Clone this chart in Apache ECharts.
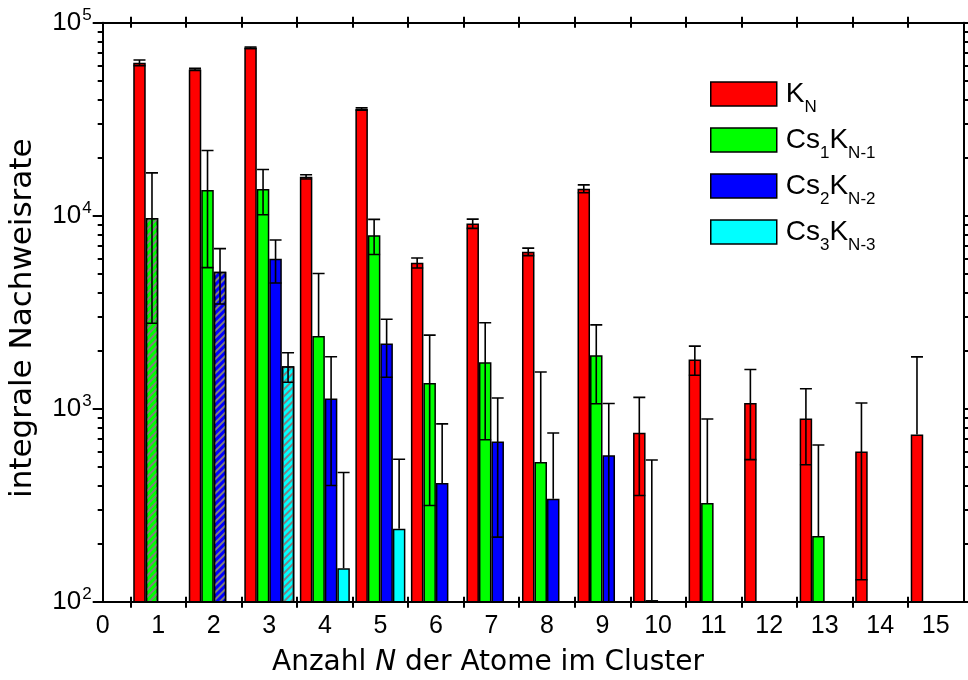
<!DOCTYPE html>
<html>
<head>
<meta charset="utf-8">
<script src="https://cdn.jsdelivr.net/npm/echarts@6/dist/echarts.min.js"></script>
<style>
  html, body { margin: 0; padding: 0; background: #fff; }
  #chart { width: 968px; height: 680px; }
</style>
</head>
<body>
<div id="chart"></div>
<script>
// Cluster size N
const clusterSizes = [1, 2, 3, 4, 5, 6, 7, 8, 9, 10, 11, 12, 13, 14, 15];

// Integral detection rates with their uncertainties (null = not detected)
const kRate   = [62000, 57300, 74200, 15900, 35700, 5700, 9100, 6500, 13800, 750, 1800, 1070, 890, 600, 735];
const kErr    = [2100, 700, 600, 400, 500, 340, 500, 290, 650, 395, 310, 525, 378, 470, 1120];
const cs1Rate = [9720, 13580, 13740, 2380, 7930, 1360, 1740, 530, 1890, 102, 325, null, 219, null, null];
const cs1Err  = [6950, 8200, 3620, 2640, 1640, 1045, 1050, 1020, 830, 440, 560, null, 430, null, null];
const cs2Rate = [null, 5120, 5980, 1130, 2180, 412, 676, 342, 574, null, null, null, null, null, null];
const cs2Err  = [null, 1630, 1500, 730, 725, 422, 460, 407, 490, null, null, null, null, null, null];
const cs3Rate = [null, null, 1660, 149, 239, null, null, null, null, null, null, null, null, null, null];
const cs3Err  = [null, null, 290, 318, 308, null, null, null, null, null, null, null, null, null, null];

// Series names and the N at which each series is a pure Cs cluster (hatched bar)
const seriesNames = ['K_N', 'Cs1K_N-1', 'Cs2K_N-2', 'Cs3K_N-3'];
const pureCsAt = [null, 1, 2, 3];

// Axis tick labels
const xLabelValues = [0, 1, 2, 3, 4, 5, 6, 7, 8, 9, 10, 11, 12, 13, 14, 15];
const xTickValues = [0.5, 1.5, 2.5, 3.5, 4.5, 5.5, 6.5, 7.5, 8.5, 9.5, 10.5, 11.5, 12.5, 13.5, 14.5];

const colors = ['#ff0000', '#00ff00', '#0000ff', '#00ffff'];
const rates = [kRate, cs1Rate, cs2Rate, cs3Rate];
const errors = [kErr, cs1Err, cs2Err, cs3Err];

const BAR_W = 12.5;
const LABEL_FONT = 'Liberation Sans, Arial, sans-serif';
const TITLE_FONT = 'DejaVu Sans, sans-serif';

const hatch = {
  symbol: 'rect',
  symbolSize: 1,
  color: '#808080',
  dashArrayX: [1, 0],
  dashArrayY: [1.6, 2.6],
  rotation: -Math.PI / 4
};

const legendRich = {
  m: { fontSize: 28, lineHeight: 28, fontFamily: LABEL_FONT, color: '#000', verticalAlign: 'middle' },
  s: { fontSize: 17, lineHeight: 17, fontFamily: LABEL_FONT, color: '#000', padding: [27, 0, 0, 0], verticalAlign: 'middle' }
};
const legendText = {
  'K_N': '{m|K}{s|N}',
  'Cs1K_N-1': '{m|Cs}{s|1}{m|K}{s|N-1}',
  'Cs2K_N-2': '{m|Cs}{s|2}{m|K}{s|N-2}',
  'Cs3K_N-3': '{m|Cs}{s|3}{m|K}{s|N-3}'
};

function barData(si) {
  const out = [];
  clusterSizes.forEach((n, i) => {
    const v = rates[si][i];
    if (v == null) return;
    const item = { value: [n, v] };
    if (pureCsAt[si] === n) item.itemStyle = { decal: hatch };
    out.push(item);
  });
  return out;
}

function errData(si) {
  const out = [];
  clusterSizes.forEach((n, i) => {
    const v = rates[si][i];
    if (v == null) return;
    out.push([n, v, errors[si][i]]);
  });
  return out;
}

function errorBarRenderer(offset) {
  return function (params, api) {
    const x = api.value(0), v = api.value(1), e = api.value(2);
    const top = api.coord([x, v + e]);
    const mid = api.coord([x, v]);
    const cx = top[0] + offset;
    const half = 6;
    const style = { stroke: '#000', lineWidth: 1.6 };
    const children = [];
    let bottomY = mid[1];
    if (v - e > 0) {
      const lo = api.coord([x, v - e]);
      bottomY = lo[1];
      children.push({ type: 'line', shape: { x1: cx - half, y1: lo[1], x2: cx + half, y2: lo[1] }, style });
    }
    children.push({ type: 'line', shape: { x1: cx, y1: bottomY, x2: cx, y2: top[1] }, style });
    children.push({ type: 'line', shape: { x1: cx - half, y1: top[1], x2: cx + half, y2: top[1] }, style });
    return { type: 'group', children };
  };
}

const series = [];
seriesNames.forEach((name, si) => {
  series.push({
    name,
    type: 'bar',
    xAxisIndex: 0,
    yAxisIndex: 0,
    barWidth: BAR_W,
    barGap: '0%',
    clip: true,
    itemStyle: { color: colors[si], borderColor: '#000', borderWidth: 1.5 },
    data: barData(si),
    z: 2
  });
});
seriesNames.forEach((name, si) => {
  series.push({
    type: 'custom',
    xAxisIndex: 0,
    yAxisIndex: 0,
    clip: true,
    encode: { x: 0, y: 1 },
    renderItem: errorBarRenderer(BAR_W * (si - 1.5)),
    data: errData(si),
    z: 5,
    silent: true
  });
});

const axisLineStyle = { color: '#000', width: 2 };

function xAxisBase(position, inside, length, showLine, showLabel) {
  return {
    type: 'value', min: 0, max: 15.5, position,
    axisLine: { show: showLine, onZero: false, lineStyle: axisLineStyle },
    axisTick: { show: true, inside, length, customValues: xTickValues, lineStyle: { color: '#000', width: 2 } },
    axisLabel: showLabel ? {
      show: true, customValues: xLabelValues, margin: 12,
      fontFamily: LABEL_FONT, fontSize: 25, color: '#000'
    } : { show: false },
    splitLine: { show: false }
  };
}

function yAxisBase(position, showLabel) {
  const ax = {
    type: 'log', logBase: 10, min: 100, max: 100000, position,
    axisLine: { show: true, onZero: false, lineStyle: axisLineStyle },
    axisTick: { show: true, inside: false, length: 10, lineStyle: { color: '#000', width: 2 } },
    minorTick: { show: true, splitNumber: 9, length: 5, lineStyle: { color: '#000', width: 2 } },
    splitLine: { show: false },
    minorSplitLine: { show: false },
    axisLabel: { show: false }
  };
  if (showLabel) {
    ax.axisLabel = {
      show: true, margin: 11,
      formatter: v => '{b|10}{p|' + Math.round(Math.log10(v)) + '}',
      rich: {
        b: { fontFamily: LABEL_FONT, fontSize: 26, lineHeight: 30, color: '#000', verticalAlign: 'middle' },
        p: { fontFamily: LABEL_FONT, fontSize: 17, lineHeight: 17, color: '#000', padding: [0, 0, 14, 1], verticalAlign: 'middle' }
      }
    };
    ax.name = 'integrale Nachweisrate';
    ax.nameLocation = 'middle';
    ax.nameRotate = 90;
    ax.nameGap = 64;
    ax.nameTextStyle = { fontFamily: TITLE_FONT, fontSize: 31, color: '#000', padding: [0, 12, 0, 0] };
  }
  return ax;
}

const chart = echarts.init(document.getElementById('chart'), null, { renderer: 'canvas' });
chart.setOption({
  backgroundColor: '#fff',
  animation: false,
  grid: { left: 102.7, right: 4.5, top: 22.7, bottom: 78.3, containLabel: false, outerBoundsMode: 'none' },
  title: {
    text: 'Anzahl {i|N} der Atome im Cluster',
    left: 272, top: 649, padding: 0,
    textStyle: {
      fontFamily: TITLE_FONT, fontSize: 28, fontWeight: 'normal', color: '#000',
      rich: { i: { fontFamily: TITLE_FONT, fontSize: 28, fontStyle: 'italic', color: '#000' } }
    }
  },
  legend: {
    data: seriesNames,
    orient: 'vertical',
    left: 710, top: 72, padding: 0,
    itemWidth: 66, itemHeight: 24, itemGap: 2,
    icon: 'rect',
    itemStyle: { borderColor: '#000', borderWidth: 1.5 },
    formatter: name => legendText[name],
    textStyle: { rich: legendRich, padding: [0, 0, 0, 4] },
    selectedMode: false
  },
  xAxis: [
    xAxisBase('bottom', false, 6, true, true),
    xAxisBase('bottom', true, 5, false, false),
    xAxisBase('top', false, 6, true, false),
    xAxisBase('top', true, 5, false, false)
  ],
  yAxis: [
    yAxisBase('left', true),
    yAxisBase('right', false)
  ],
  series
});
</script>
</body>
</html>
